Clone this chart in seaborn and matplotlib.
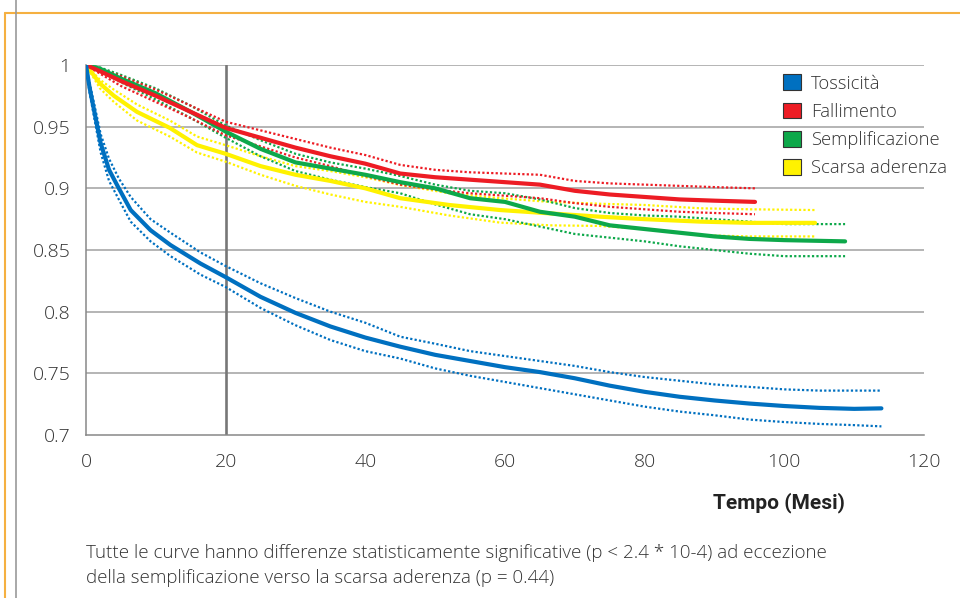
import matplotlib
matplotlib.use("Agg")
import matplotlib.pyplot as plt
import seaborn as sns
from matplotlib.lines import Line2D
from matplotlib.patches import Patch

# Curve di sopravvivenza (tempo in mesi)
tox_t = [0, 0.5, 1.15, 2.1, 3.3, 4.7, 6.4, 9.25, 12.1, 16.4, 20, 25, 30, 35, 40, 45,
         50, 55, 60, 65, 70, 75, 80, 85, 90, 95, 100, 105, 110, 113.9]
tox = [1, 0.982, 0.9635, 0.9365, 0.915, 0.9, 0.8824, 0.866, 0.854, 0.839, 0.828, 0.812,
       0.799, 0.788, 0.779, 0.7716, 0.765, 0.76, 0.755, 0.751, 0.746, 0.74, 0.735, 0.731,
       0.728, 0.7255, 0.7235, 0.722, 0.7212, 0.7216]
tox_hi = [1, 0.986, 0.969, 0.944, 0.924, 0.908, 0.893, 0.875, 0.864, 0.848, 0.837, 0.823,
          0.811, 0.8, 0.791, 0.7797, 0.774, 0.768, 0.764, 0.76, 0.756, 0.751, 0.747, 0.744,
          0.741, 0.739, 0.737, 0.736, 0.736, 0.736]
tox_lo = [1, 0.978, 0.958, 0.929, 0.906, 0.891, 0.873, 0.857, 0.845, 0.83, 0.82, 0.803,
          0.789, 0.777, 0.768, 0.762, 0.754, 0.748, 0.743, 0.738, 0.733, 0.728, 0.723,
          0.719, 0.716, 0.7125, 0.7105, 0.709, 0.708, 0.707]

fal_t = [0, 2, 5, 10, 15, 20, 25, 30, 35, 40, 45, 50, 55, 60, 65, 70, 75, 80, 85, 90, 95.8]
fal = [1, 0.995, 0.987, 0.975, 0.962, 0.949, 0.941, 0.933, 0.926, 0.92, 0.912, 0.909,
       0.907, 0.905, 0.903, 0.898, 0.895, 0.893, 0.891, 0.89, 0.889]
fal_hi = [1, 0.997, 0.991, 0.98, 0.967, 0.954, 0.947, 0.94, 0.933, 0.927, 0.919, 0.915,
          0.913, 0.912, 0.911, 0.906, 0.904, 0.903, 0.902, 0.901, 0.9]
fal_lo = [1, 0.993, 0.983, 0.97, 0.957, 0.943, 0.934, 0.925, 0.918, 0.91, 0.903, 0.899,
          0.896, 0.894, 0.892, 0.888, 0.885, 0.883, 0.881, 0.88, 0.879]

sem_t = [0, 2, 5, 10, 15, 20, 25, 30, 35, 40, 45, 50, 55, 60, 65, 70, 75, 80, 85, 90,
         95, 100, 108.7]
sem = [1, 0.997, 0.989, 0.977, 0.962, 0.946, 0.932, 0.921, 0.916, 0.911, 0.905, 0.9,
       0.892, 0.889, 0.881, 0.877, 0.87, 0.867, 0.864, 0.861, 0.859, 0.858, 0.857]
sem_hi = [1, 0.998, 0.992, 0.981, 0.967, 0.951, 0.939, 0.928, 0.921, 0.916, 0.91, 0.903,
          0.898, 0.896, 0.891, 0.884, 0.88, 0.878, 0.877, 0.875, 0.873, 0.871, 0.871]
sem_lo = [1, 0.995, 0.986, 0.972, 0.957, 0.941, 0.926, 0.914, 0.907, 0.901, 0.896, 0.887,
          0.879, 0.875, 0.869, 0.863, 0.86, 0.857, 0.853, 0.85, 0.847, 0.845, 0.845]

ade_t = [0, 2, 4, 7.3, 12, 15.9, 20, 25, 30, 35, 40, 45, 52, 59.3, 66.4, 73.6, 80, 88,
         95, 104.4]
ade = [1, 0.985, 0.975, 0.962, 0.949, 0.935, 0.928, 0.918, 0.911, 0.906, 0.9, 0.892,
       0.8865, 0.8824, 0.8797, 0.877, 0.875, 0.873, 0.872, 0.872]
ade_hi = [1, 0.988, 0.98, 0.968, 0.955, 0.942, 0.935, 0.926, 0.918, 0.914, 0.909, 0.9027,
          0.896, 0.892, 0.889, 0.8875, 0.8865, 0.8838, 0.883, 0.8824]
ade_lo = [1, 0.981, 0.97, 0.955, 0.942, 0.929, 0.9216, 0.911, 0.902, 0.895, 0.889, 0.885,
          0.878, 0.8722, 0.87, 0.8695, 0.867, 0.862, 0.861, 0.861]

labels = ["Tossicità", "Fallimento", "Semplificazione", "Scarsa aderenza"]
colors = ["#0070C0", "#ED1C24", "#0DA84A", "#FFF200"]

sns.set_style("white")
plt.rcParams["font.family"] = ["Open Sans", "DejaVu Sans"]

fig = plt.figure(figsize=(9.6, 5.98), dpi=100)
ax = fig.add_axes([86 / 960, 1 - 435 / 598, 838 / 960, 370 / 598])

# linee di riferimento
for v in [0.75, 0.8, 0.85, 0.9, 0.95, 1.0]:
    ax.axhline(v, color="#a0a0a0", lw=1.1, zorder=0)
ax.axvline(20, color="#777777", lw=1.9, zorder=1)

series = [
    (ade_t, ade, ade_hi, ade_lo, colors[3]),
    (sem_t, sem, sem_hi, sem_lo, colors[2]),
    (fal_t, fal, fal_hi, fal_lo, colors[1]),
    (tox_t, tox, tox_hi, tox_lo, colors[0]),
]
for t, m, hi, lo, c in series:
    sns.lineplot(x=t, y=hi, ax=ax, color=c, lw=1.6, linestyle=(0, (1, 1)), zorder=2)
    sns.lineplot(x=t, y=lo, ax=ax, color=c, lw=1.6, linestyle=(0, (1, 1)), zorder=2)
    sns.lineplot(x=t, y=m, ax=ax, color=c, lw=3.0, zorder=3)

txt_w = "light"
ax.set_xlim(0, 120)
ax.set_ylim(0.7, 1.0)
ax.set_xticks([0, 20, 40, 60, 80, 100, 120])
ax.set_xticklabels(["0", "20", "40", "60", "80", "100", "120"])
ax.set_yticks([0.7, 0.75, 0.8, 0.85, 0.9, 0.95, 1.0])
ax.set_yticklabels(["0.7", "0.75", "0.8", "0.85", "0.9", "0.95", "1"])
ax.tick_params(axis="x", direction="out", length=6, width=1, color="#888888",
               pad=7, labelsize=14, labelcolor="#333333")
ax.tick_params(axis="y", length=0, pad=11, labelsize=14, labelcolor="#333333")
for lab in ax.get_xticklabels() + ax.get_yticklabels():
    lab.set_fontweight(txt_w)
for s in ["top", "right"]:
    ax.spines[s].set_visible(False)
ax.spines["left"].set_color("#888888")
ax.spines["bottom"].set_color("#888888")
ax.spines["left"].set_linewidth(1.1)
ax.spines["bottom"].set_linewidth(1.1)
ax.set_xlabel("")
ax.set_ylabel("")

handles = [Patch(facecolor=c, edgecolor="#333333", linewidth=0.8) for c in colors]
leg = fig.legend(handles, labels, loc="upper left",
                 bbox_to_anchor=(776 / 960, 1 - 67 / 598),
                 frameon=False, handlelength=0.95, handleheight=0.95,
                 handletextpad=0.55, labelspacing=0.55, borderaxespad=0,
                 prop={"weight": txt_w, "size": 13.2})
for t in leg.get_texts():
    t.set_color("#333333")

fig.text(779 / 960, 1 - 503 / 598, "Tempo (Mesi)", ha="center", va="center",
         fontsize=15, fontweight="bold", color="#222222",
         family=["Roboto", "DejaVu Sans"])

fig.text(86 / 960, 1 - 553 / 598,
         "Tutte le curve hanno differenze statisticamente significative (p < 2.4 * 10-4) ad eccezione",
         ha="left", va="center", fontsize=13.5, fontweight=txt_w, color="#333333")
fig.text(86 / 960, 1 - 578 / 598,
         "della semplificazione verso la scarsa aderenza (p = 0.44)",
         ha="left", va="center", fontsize=13.5, fontweight=txt_w, color="#333333")

# cornice della pagina
fig.add_artist(Line2D([5 / 960, 1], [1 - 13 / 598] * 2, transform=fig.transFigure,
                      color="#F5B041", lw=1.5))
fig.add_artist(Line2D([5 / 960] * 2, [0, 1 - 13 / 598], transform=fig.transFigure,
                      color="#F5B041", lw=1.5))
fig.add_artist(Line2D([16 / 960] * 2, [0, 1], transform=fig.transFigure,
                      color="#999999", lw=1.2))

fig.savefig("out.png", dpi=100)
